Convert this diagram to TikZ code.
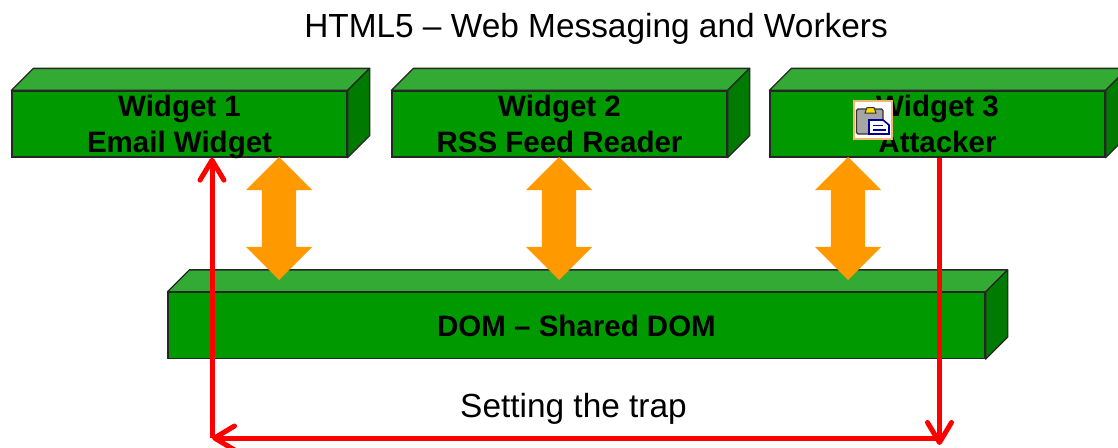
\documentclass[tikz,border=0pt]{standalone}
\usepackage{fontspec}
\setmainfont{Liberation Sans}
\usetikzlibrary{arrows.meta, shapes.arrows}

\definecolor{frontgreen}{HTML}{009900}
\definecolor{topgreen}{HTML}{33AA33}
\definecolor{sidegreen}{HTML}{007A00}
\definecolor{syncorange}{HTML}{FF9900}
\definecolor{iconframe}{HTML}{F2B66E}

% top and side of a slab, taken from its front node
\newcommand{\slabfaces}[1]{
	\draw[facefill, fill=topgreen] (#1.north west) -- ++(22, -22) -- ([shift={(22, -22)}]#1.north east) -- (#1.north east) -- cycle;
	\draw[facefill, fill=sidegreen] (#1.north east) -- ++(22, -22) -- ([shift={(22, -22)}]#1.south east) -- (#1.south east) -- cycle;
}

\begin{document}
\begin{tikzpicture}[x=1pt, y=-1pt,
		slab/.style={draw=black!85, line width=1.3pt, fill=frontgreen, inner sep=0pt, minimum height=66, align=center, text depth=0, font=\fontsize{29.5}{36}\selectfont\bfseries},
		facefill/.style={draw=black!85, line width=1.3pt, line join=round},
		sync/.style={shape=double arrow, fill=syncorange, inner sep=0pt, rotate=90, minimum height=123, text height=34, text depth=0, double arrow head extend=16, double arrow tip angle=90},
		trap/.style={draw=red, line width=5pt},
		trap arrow/.style={trap, -{Straight Barb[length=20pt, width=24pt, round]}},
		caption/.style={inner sep=0pt, font=\fontsize{33.4}{36}\selectfont}]
	\clip (0, 0) rectangle (1118, 447);

	\node[caption] (title) at (596, 29) {HTML5 -- Web Messaging and Workers};

	\node[slab, minimum width=335] (widget1) at (179.5, 124) {Widget 1\\Email Widget};
	\node[slab, minimum width=335] (widget2) at (559.5, 124) {Widget 2\\RSS Feed Reader};
	\node[slab, minimum width=335] (widget3) at (937.5, 124) {Widget 3\\Attacker};
	\node[slab, minimum width=817] (dom) at (576.5, 325.5) {DOM -- Shared DOM};
	\slabfaces{widget1}
	\slabfaces{widget2}
	\slabfaces{widget3}
	\slabfaces{dom}

	\node[sync] (sync1) at (279, 218.5) {};
	\node[sync] (sync2) at (559, 218.5) {};
	\node[sync] (sync3) at (848, 218.5) {};

	\node[caption] (trapcaption) at (573.5, 409) {Setting the trap};

	\coordinate (trapright) at (939.5, 445);
	\coordinate (trapleft) at (212, 438);
	\draw[trap arrow] (widget3.south -| trapright) -- (trapright);
	\draw[trap arrow] (trapright |- trapleft) -- (trapleft);
	\draw[trap arrow] (trapleft) -- (trapleft |- widget1.south);

	% clipboard icon on top of the third widget
	\node[draw=iconframe, line width=2pt, fill=white, minimum size=38, inner sep=0pt] (icon) at (872.5, 120) {};
	\draw[black!80, line width=1.2pt, fill=black!35, rounded corners=1.5pt] (856.5, 109) rectangle (883, 134);
	\draw[black!80, line width=1pt, fill=yellow!80!orange] (865, 113) -- (867, 107.5) -- (874, 107.5) -- (876, 113) -- cycle;
	\draw[blue!60!black, line width=1.6pt, fill=white] (869, 120) -- (883, 120) -- (889, 125) -- (889, 134) -- (869, 134) -- cycle;
	\draw[blue!60!black, line width=1.2pt] (873, 125.5) -- (883, 125.5) (873, 130) -- (886, 130);
\end{tikzpicture}
\end{document}
